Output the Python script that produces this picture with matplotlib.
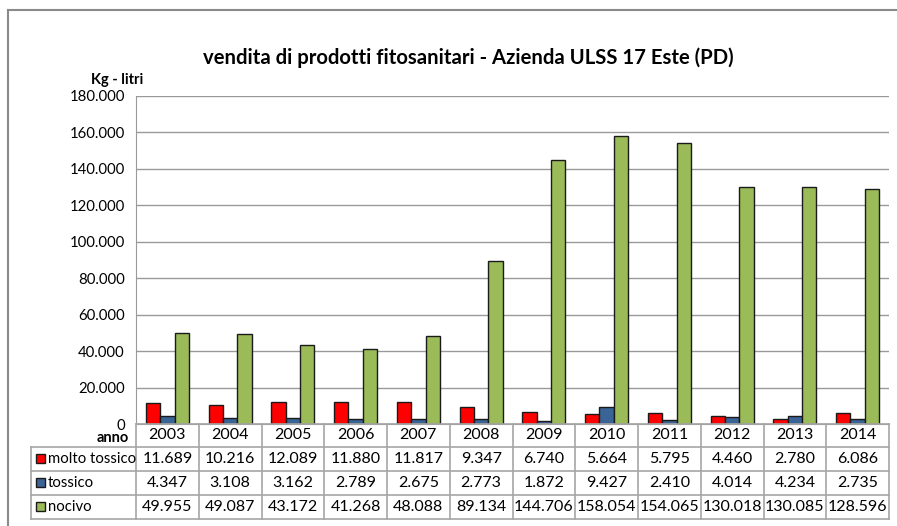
import matplotlib
matplotlib.use("Agg")
import matplotlib.pyplot as plt
from matplotlib.patches import Rectangle
from matplotlib.lines import Line2D

years = ["2003", "2004", "2005", "2006", "2007", "2008", "2009", "2010", "2011", "2012", "2013", "2014"]
molto_tossico = [11689, 10216, 12089, 11880, 11817, 9347, 6740, 5664, 5795, 4460, 2780, 6086]
tossico = [4347, 3108, 3162, 2789, 2675, 2773, 1872, 9427, 2410, 4014, 4234, 2735]
nocivo = [49955, 49087, 43172, 41268, 48088, 89134, 144706, 158054, 154065, 130018, 130085, 128596]
series_names = ["molto tossico", "tossico", "nocivo"]
series_values = [molto_tossico, tossico, nocivo]
series_colors = ["#FF0000", "#3A6496", "#9BBB59"]
y_ticks = [0, 20000, 40000, 60000, 80000, 100000, 120000, 140000, 160000, 180000]

FONT = "Lato"
W, H = 897, 526
fig = plt.figure(figsize=(W / 100, H / 100), dpi=100)

def fx(px):
    return px / W

def fy(py):
    return 1 - py / H

# outer border (partially cropped)
fig.add_artist(Line2D([fx(8), fx(900)], [fy(10), fy(10)], color="#8a8a8a", lw=1.5, transform=fig.transFigure))
fig.add_artist(Line2D([fx(8), fx(8)], [fy(10), fy(530)], color="#8a8a8a", lw=1.5, transform=fig.transFigure))

left, right, top, bottom = 136, 889, 95.7, 424
ax = fig.add_axes([fx(left), fy(bottom), fx(right) - fx(left), fy(top) - fy(bottom)])

n = len(years)
bw = 0.228
offsets = [-bw, 0, bw]
xs = list(range(n))
for vals, col, off in zip(series_values, series_colors, offsets):
    ax.bar([x + off for x in xs], vals, width=bw, color=col, edgecolor="#1a1a1a", linewidth=1.0, zorder=3)

ax.set_xlim(-0.5, n - 0.5)
ax.set_ylim(0, 180000)
ax.set_yticks(y_ticks)
ax.set_yticklabels(["0" if v == 0 else f"{v:,}".replace(",", ".") for v in y_ticks],
                   fontfamily=FONT, fontsize=10.7)
ax.tick_params(axis="y", length=0, pad=8)
ax.set_xticks([])
ax.yaxis.grid(True, color="#9a9a9a", lw=1.0, zorder=0)
for s in ["top", "right"]:
    ax.spines[s].set_visible(False)
ax.spines["left"].set_color("#9a9a9a")
ax.spines["bottom"].set_color("#9a9a9a")

fig.text(fx(468), fy(58), "vendita di prodotti fitosanitari - Azienda ULSS 17 Este (PD)",
         ha="center", va="center", fontfamily=FONT, fontweight="bold", fontsize=14.6)
fig.text(fx(143), fy(80), "Kg - litri", ha="right", va="center", fontfamily=FONT,
         fontweight="bold", fontsize=10.5)

# data table
row_y = [424, 446.5, 471, 494.5, 519]
grid_col = "#a6a6a6"
colw = (right - left) / n
bounds = [left + i * colw for i in range(n + 1)]
for b in bounds:
    fig.add_artist(Line2D([fx(b), fx(b)], [fy(row_y[0]), fy(row_y[-1])], color=grid_col, lw=1.2,
                          transform=fig.transFigure))
for i, yy in enumerate(row_y):
    x0 = left if i == 0 else 31
    fig.add_artist(Line2D([fx(x0), fx(right)], [fy(yy), fy(yy)], color=grid_col, lw=1.2,
                          transform=fig.transFigure))
fig.add_artist(Line2D([fx(31), fx(31)], [fy(row_y[1]), fy(row_y[-1])], color=grid_col, lw=1.2,
                      transform=fig.transFigure))

fig.text(fx(129), fy(438), "anno", ha="right", va="center", fontfamily=FONT, fontweight="bold", fontsize=10.5)
for i, yr in enumerate(years):
    cx = (bounds[i] + bounds[i + 1]) / 2
    fig.text(fx(cx), fy((row_y[0] + row_y[1]) / 2), yr, ha="center", va="center",
             fontfamily=FONT, fontsize=11.5)
for r, (name, vals, col) in enumerate(zip(series_names, series_values, series_colors)):
    cy = (row_y[r + 1] + row_y[r + 2]) / 2
    fig.add_artist(Rectangle((fx(36), fy(cy + 4.5)), fx(9), fy(0) - fy(9), facecolor=col,
                             edgecolor="#1a1a1a", lw=1.0, transform=fig.transFigure))
    fig.text(fx(48), fy(cy), name, ha="left", va="center", fontfamily=FONT, fontsize=10.7)
    for i, v in enumerate(vals):
        cx = (bounds[i] + bounds[i + 1]) / 2
        fig.text(fx(cx), fy(cy), f"{v:,}".replace(",", "."), ha="center", va="center",
                 fontfamily=FONT, fontsize=11.5)

fig.savefig("out.png", dpi=100)
